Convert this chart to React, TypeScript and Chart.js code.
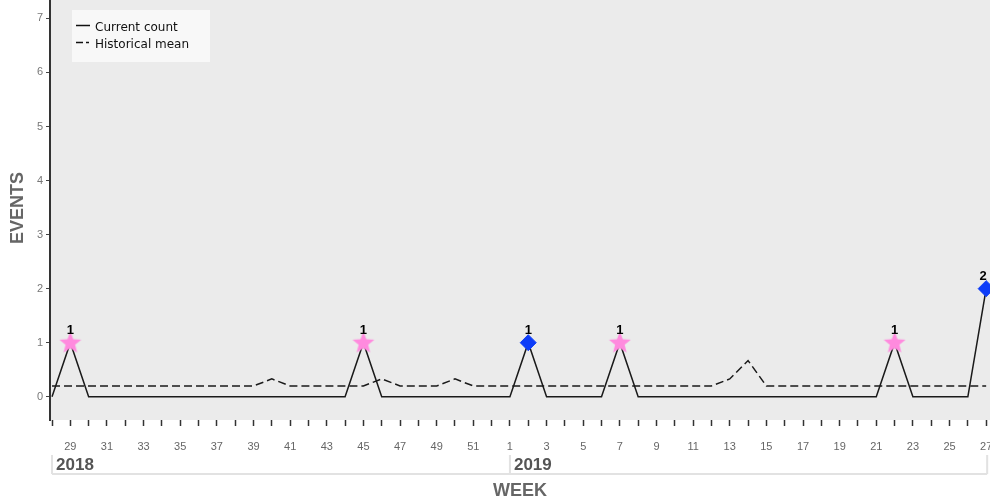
import React, { useEffect, useRef } from 'react';
import { Chart, registerables } from 'chart.js';

Chart.register(...registerables);

// ---- data ----
const weeks = [
  28, 29, 30, 31, 32, 33, 34, 35, 36, 37, 38, 39, 40, 41, 42, 43, 44, 45, 46, 47, 48, 49, 50, 51, 52,
  1, 2, 3, 4, 5, 6, 7, 8, 9, 10, 11, 12, 13, 14, 15, 16, 17, 18, 19, 20, 21, 22, 23, 24, 25, 26, 27,
];
const years = ['2018', '2019'];
const yearStartIndex = [0, 25];
const currentCount = [
  0, 1, 0, 0, 0, 0, 0, 0, 0, 0, 0, 0, 0, 0, 0, 0, 0, 1, 0, 0, 0, 0, 0, 0, 0,
  0, 1, 0, 0, 0, 0, 1, 0, 0, 0, 0, 0, 0, 0, 0, 0, 0, 0, 0, 0, 0, 1, 0, 0, 0, 0, 2,
];
const historicalMean = [
  0.2, 0.2, 0.2, 0.2, 0.2, 0.2, 0.2, 0.2, 0.2, 0.2, 0.2, 0.2, 0.33, 0.2, 0.2, 0.2, 0.2, 0.2, 0.33, 0.2, 0.2, 0.2, 0.33, 0.2, 0.2,
  0.2, 0.2, 0.2, 0.2, 0.2, 0.2, 0.2, 0.2, 0.2, 0.2, 0.2, 0.2, 0.33, 0.67, 0.2, 0.2, 0.2, 0.2, 0.2, 0.2, 0.2, 0.2, 0.2, 0.2, 0.2, 0.2, 0.2,
];
// 0 = none, 1 = pink star, 2 = blue diamond
const markerType = [
  0, 1, 0, 0, 0, 0, 0, 0, 0, 0, 0, 0, 0, 0, 0, 0, 0, 1, 0, 0, 0, 0, 0, 0, 0,
  0, 2, 0, 0, 0, 0, 1, 0, 0, 0, 0, 0, 0, 0, 0, 0, 0, 0, 0, 0, 0, 1, 0, 0, 0, 0, 2,
];
const yTicks = [0, 1, 2, 3, 4, 5, 6, 7];
const legendLabels = ['Current count', 'Historical mean'];
const xTitle = 'WEEK';
const yTitle = 'EVENTS';

const STAR_COLOR = '#ff8ade';
const DIAMOND_COLOR = '#0d3cf8';

function makeStar(): HTMLCanvasElement {
  const c = document.createElement('canvas');
  c.width = 24;
  c.height = 24;
  const g = c.getContext('2d')!;
  const cx = 12, cy = 12.5, R = 11.5, r = 5;
  g.beginPath();
  for (let i = 0; i < 10; i++) {
    const ang = -Math.PI / 2 + (i * Math.PI) / 5;
    const rad = i % 2 === 0 ? R : r;
    const px = cx + Math.cos(ang) * rad;
    const py = cy + Math.sin(ang) * rad;
    if (i === 0) g.moveTo(px, py);
    else g.lineTo(px, py);
  }
  g.closePath();
  g.fillStyle = STAR_COLOR;
  g.fill();
  return c;
}

const FONT = '"Liberation Sans", Arial, sans-serif';

export default function App() {
  const ref = useRef<HTMLCanvasElement | null>(null);

  useEffect(() => {
    document.body.style.margin = '0';
    const canvas = ref.current!;
    const star = makeStar();

    const bgPlugin = {
      id: 'bgPlugin',
      beforeDraw(chart: any) {
        const { ctx, chartArea } = chart;
        ctx.save();
        ctx.fillStyle = '#ebebeb';
        ctx.fillRect(chartArea.left, chartArea.top, chart.width - chartArea.left, chartArea.bottom - chartArea.top);
        ctx.restore();
      },
    };

    const decoPlugin = {
      id: 'decoPlugin',
      afterDraw(chart: any) {
        const { ctx, scales } = chart;
        const xs = scales.x;
        const ys = scales.y;
        ctx.save();

        // data labels
        ctx.fillStyle = '#000';
        ctx.font = `bold 13px ${FONT}`;
        ctx.textAlign = 'center';
        ctx.textBaseline = 'alphabetic';
        currentCount.forEach((v, i) => {
          if (markerType[i]) {
            const px = xs.getPixelForValue(i);
            const py = ys.getPixelForValue(v);
            ctx.fillText(String(v), Math.min(px, 983), py - 9);
          }
        });

        // legend box
        ctx.fillStyle = '#f8f8f8';
        ctx.fillRect(72, 10, 138, 52);
        ctx.strokeStyle = '#111';
        ctx.lineWidth = 1.5;
        ctx.beginPath();
        ctx.moveTo(76, 25.5);
        ctx.lineTo(90, 25.5);
        ctx.stroke();
        ctx.beginPath();
        ctx.moveTo(76, 42.5);
        ctx.lineTo(83, 42.5);
        ctx.moveTo(86, 42.5);
        ctx.lineTo(89, 42.5);
        ctx.stroke();
        ctx.fillStyle = '#111';
        ctx.font = `12px "DejaVu Sans", sans-serif`;
        ctx.textAlign = 'left';
        ctx.textBaseline = 'middle';
        ctx.fillText(legendLabels[0], 95, 28);
        ctx.fillText(legendLabels[1], 95, 45);

        // year band
        const x0 = xs.getPixelForValue(0);
        const xEnd = xs.getPixelForValue(weeks.length - 1) + 1;
        ctx.strokeStyle = '#e2e2e2';
        ctx.lineWidth = 2;
        ctx.beginPath();
        ctx.moveTo(x0, 474);
        ctx.lineTo(xEnd, 474);
        ctx.moveTo(xEnd, 455);
        ctx.lineTo(xEnd, 474);
        yearStartIndex.forEach((si) => {
          const sx = xs.getPixelForValue(si);
          ctx.moveTo(sx, 455);
          ctx.lineTo(sx, 474);
        });
        ctx.stroke();
        ctx.fillStyle = '#555';
        ctx.font = `bold 17px ${FONT}`;
        ctx.textAlign = 'left';
        ctx.textBaseline = 'alphabetic';
        years.forEach((y, k) => {
          const sx = xs.getPixelForValue(yearStartIndex[k]);
          ctx.fillText(y, sx + 4, 470);
        });

        // axis titles
        ctx.fillStyle = '#666';
        ctx.font = `bold 18px ${FONT}`;
        ctx.textAlign = 'center';
        ctx.fillText(xTitle, 520, 496);
        ctx.translate(23, 208);
        ctx.rotate(-Math.PI / 2);
        ctx.fillText(yTitle, 0, 0);

        ctx.restore();
      },
    };

    const chart = new Chart(canvas, {
      type: 'line',
      data: {
        datasets: [
          {
            label: legendLabels[0],
            data: currentCount.map((v, i) => ({ x: i, y: v })),
            borderColor: '#1a1a1a',
            borderWidth: 1.5,
            tension: 0,
            clip: false as any,
            pointStyle: markerType.map((m) => (m === 1 ? star : 'rectRot')) as any,
            pointRadius: markerType.map((m) => (m ? 8 : 0)),
            pointHoverRadius: markerType.map((m) => (m ? 8 : 0)),
            pointBackgroundColor: DIAMOND_COLOR,
            pointBorderColor: DIAMOND_COLOR,
            pointBorderWidth: 1,
            order: 1,
          },
          {
            label: legendLabels[1],
            data: historicalMean.map((v, i) => ({ x: i, y: v })),
            borderColor: '#1a1a1a',
            borderWidth: 1.5,
            borderDash: [8, 4],
            tension: 0,
            pointRadius: 0,
            order: 2,
          },
        ],
      },
      options: {
        animation: false,
        responsive: false,
        events: [],
        layout: { autoPadding: false, padding: { top: 0, right: 2, left: 0, bottom: 0 } },
        plugins: { legend: { display: false }, tooltip: { enabled: false }, title: { display: false } },
        scales: {
          x: {
            type: 'linear',
            min: -0.11,
            max: 51.1,
            afterBuildTicks: (s: any) => {
              s.ticks = weeks.map((_, i) => ({ value: i }));
            },
            afterFit: (s: any) => {
              s.height = 81;
              s.paddingLeft = 0;
              s.paddingRight = 0;
            },
            grid: { drawOnChartArea: false, drawTicks: true, tickLength: 6, tickColor: '#333', tickWidth: 1.5 },
            border: { display: false },
            ticks: {
              autoSkip: false,
              maxRotation: 0,
              padding: 14,
              color: '#666',
              font: { family: FONT, size: 11 },
              callback: (_v: any, idx: number) => (weeks[idx] % 2 === 1 ? String(weeks[idx]) : ''),
            },
          },
          y: {
            min: -0.43,
            max: 7.34,
            afterBuildTicks: (s: any) => {
              s.ticks = yTicks.map((v) => ({ value: v }));
            },
            afterFit: (s: any) => {
              s.width = 50;
              s.paddingTop = 0;
              s.paddingBottom = 0;
            },
            grid: { drawOnChartArea: false, drawTicks: true, tickLength: 4, tickColor: '#444', tickWidth: 1 },
            border: { display: true, color: '#333', width: 2 },
            ticks: {
              padding: 3,
              color: '#777',
              font: { family: FONT, size: 11 },
              callback: (v: any) => String(v),
            },
          },
        },
      },
      plugins: [bgPlugin, decoPlugin],
    });

    return () => chart.destroy();
  }, []);

  return (
    <div style={{ width: 990, height: 501 }}>
      <canvas ref={ref} width={990} height={501} style={{ display: 'block' }} />
    </div>
  );
}
